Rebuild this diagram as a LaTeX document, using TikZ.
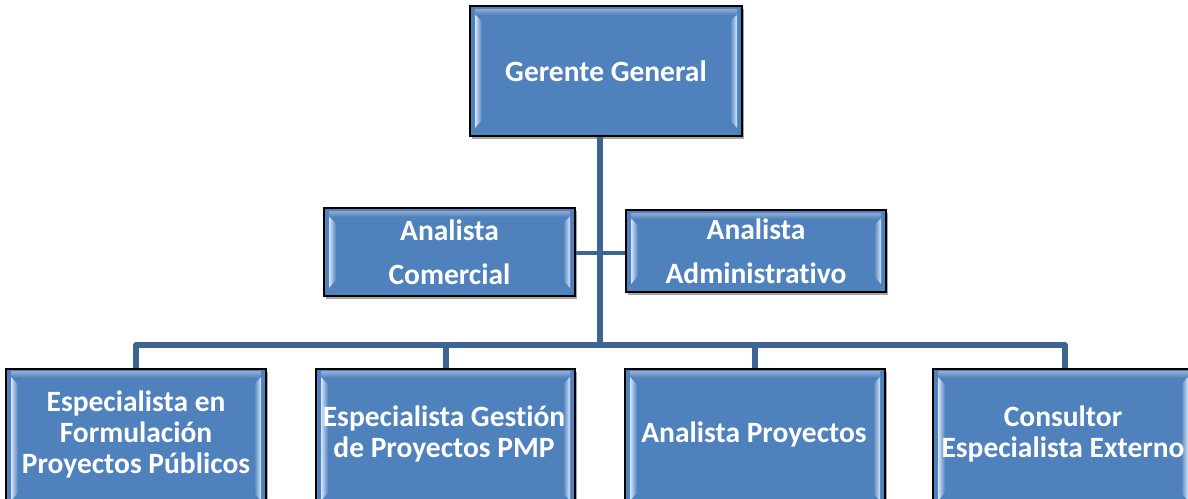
\documentclass[tikz,border=0pt]{standalone}
\usepackage{fontspec}
\setmainfont[Ligatures={NoCommon}]{Carlito}
\usetikzlibrary{shadows,calc}
\definecolor{boxblue}{HTML}{4F81BD}
\definecolor{lineblue}{HTML}{3D6594}
\definecolor{bevel}{HTML}{D6E6F8}
\tikzset{
  orgbox/.style={draw=black, line width=1.6pt, fill=boxblue, inner sep=0pt,
    align=center, text=white, font=\bfseries\fontsize{29.5}{31}\selectfont,
    drop shadow={shadow xshift=2pt, shadow yshift=-3pt, opacity=0.35, fill=black},
    path picture={
      \coordinate (nw) at (path picture bounding box.north west);
      \coordinate (se) at (path picture bounding box.south east);
      \fill[left color=bevel, right color=boxblue]
        ($(nw)+(5,8)$) -- ($(nw)+(12,16)$) -- ($(nw|-se)+(12,-16)$) -- ($(nw|-se)+(5,-8)$) -- cycle;
      \fill[right color=bevel, left color=boxblue]
        ($(se|-nw)+(-5,8)$) -- ($(se|-nw)+(-12,16)$) -- ($(se)+(-12,-16)$) -- ($(se)+(-5,-8)$) -- cycle;
      \fill[top color=white, bottom color=boxblue, opacity=0.35]
        ($(nw)+(5,3)$) rectangle ($(se|-nw)+(-5,9)$);
    }},
  boxtext/.style={text=white, font=\bfseries\fontsize{29.5}{31}\selectfont, align=center, inner sep=0pt},
  twoline/.style={font=\bfseries\fontsize{29.5}{44}\selectfont},
  link/.style={draw=lineblue, line width=5.5pt, line join=round},
}
\begin{document}
\begin{tikzpicture}[x=1pt,y=-1pt]
\useasboundingbox (0,0) rectangle (1188,498);
\node[orgbox, minimum width=272pt, minimum height=130pt] (gg) at (606,71) {Gerente General};
\node[orgbox, twoline, minimum width=251pt, minimum height=88pt] (ac) at (449.5,252) {Analista\\Comercial};
\node[orgbox, twoline, minimum width=260pt, minimum height=82pt] (aa) at (756,251) {Analista\\Administrativo};
\coordinate (trunk) at (600,345);
\coordinate (b1) at (136,345);
\coordinate (b2) at (446,345);
\coordinate (b3) at (755,345);
\coordinate (b4) at (1065,345);
\node[orgbox, minimum width=260pt, minimum height=140pt, anchor=north] (e1) at (136,368) {};
\node[orgbox, minimum width=259pt, minimum height=140pt, anchor=north] (e2) at (445.5,368) {};
\node[orgbox, minimum width=260pt, minimum height=140pt, anchor=north] (e3) at (755,368) {};
\node[orgbox, minimum width=260pt, minimum height=140pt, anchor=north] (e4) at (1063,368) {};
\node[boxtext] (t1) at (136,434) {Especialista en\\Formulación\\Proyectos Públicos};
\node[boxtext] (t2) at (444,434) {Especialista Gestión\\de Proyectos PMP};
\node[boxtext] (t3) at (754,434) {Analista Proyectos};
\node[boxtext] (t4) at (1063,434) {Consultor\\Especialista Externo};
\draw[link, line width=4pt] (ac.east |- 0,253) -- (aa.west |- 0,253);
\draw[link, line width=6.5pt] (gg.south -| trunk) -- (trunk);
\draw[link] (b1 |- e1.north) -- (b1) -- (b4) -- (b4 |- e4.north);
\draw[link] (b2) -- (b2 |- e2.north);
\draw[link] (b3) -- (b3 |- e3.north);
\end{tikzpicture}
\end{document}
